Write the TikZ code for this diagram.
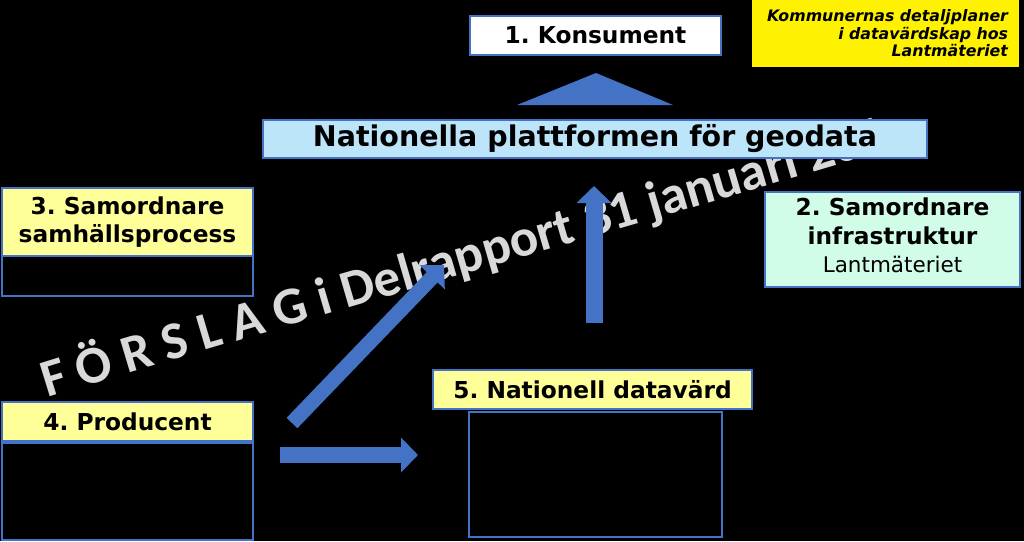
\documentclass[tikz,border=0pt]{standalone}
\usepackage{fontspec}
\setmainfont{DejaVu Sans}[ItalicFont={DejaVu Sans Oblique},BoldItalicFont={DejaVu Sans Bold Oblique}]
\newfontfamily\wmfont{Carlito}
\usetikzlibrary{arrows.meta,decorations.text}
\definecolor{abl}{RGB}{68,114,196}
\definecolor{lyel}{RGB}{255,255,153}
\definecolor{lblu}{RGB}{189,229,250}
\definecolor{mint}{RGB}{208,252,232}
\definecolor{wmg}{RGB}{217,217,217}
\frenchspacing
\begin{document}
\begin{tikzpicture}[x=1pt,y=-1pt,
  box/.style={draw=abl, line width=1.2pt, inner sep=0pt, align=center, text=black},
  lbl/.style={font=\fontsize{23.3}{28.5}\selectfont\bfseries},
  hdr/.style={box, lbl, fill=lyel},
  blk/.style={box, fill=black},
  barrow/.style={draw=abl, line width=#1, -{Triangle[length=17pt,width=34pt]}},
]
\useasboundingbox (0,0) rectangle (1024,541);
\fill[black] (0,0) rectangle (1024,541);

% watermark
\path[decorate, decoration={text along path, text align=left,
  text={|\wmfont\bfseries\fontsize{53}{53}\selectfont\color{wmg}|F Ö R S L A G i Delrapport 31 januari 2019}}]
  (47,398) .. controls (250,335) and (600,236) .. (900,146);

% top
\node[box, lbl, fill=white, minimum width=251pt, minimum height=39pt] (kons) at (595.5,35.5) {1. Konsument};
\coordinate (t1) at (517,105);
\coordinate (t2) at (596,73);
\coordinate (t3) at (673,105);
\fill[abl] (t1) -- (t2) -- (t3) -- cycle;
\node[box, fill=lblu, font=\fontsize{28.5}{30}\selectfont\bfseries, minimum width=664pt, minimum height=38pt] (plat) at (595,139) {Nationella plattformen för geodata};

\node[fill=yellow, inner xsep=11pt, inner ysep=0pt, text width=245pt, align=right, minimum height=67pt,
  font=\fontsize{15.8}{17.5}\selectfont\bfseries\itshape] (note) at (885.5,33.5) {Kommunernas detaljplaner\\ i datavärdskap hos\\ Lantmäteriet};

% box 3
\node[hdr, minimum width=251pt, minimum height=68pt] (b3) at (127.5,222) {3. Samordnare\\ samhällsprocess};
\node[blk, minimum width=251pt, minimum height=40pt] (b3b) at (127.5,276) {};

% box 2
\node[box, fill=mint, minimum width=255pt, minimum height=95pt] (b2) at (892.5,239.5) {};
\node[align=center, inner sep=0pt, font=\fontsize{23.3}{28.5}\selectfont] (b2t) at (892.5,235.5)
  {\textbf{2. Samordnare}\\ \textbf{infrastruktur}\\ {\fontsize{21.5}{28.5}\selectfont Lantmäteriet}};

% box 4
\node[hdr, minimum width=251pt, minimum height=39pt] (b4) at (127.5,421.5) {4. Producent};
\node[blk, minimum width=251pt, minimum height=97pt] (b4b) at (127.5,491.5) {};

% box 5
\node[hdr, minimum width=319pt, minimum height=39pt] (b5) at (592.5,389.5) {5. Nationell datavärd};
\node[blk, minimum width=253pt, minimum height=125pt] (b5b) at (595.5,474.5) {};

% arrows
\coordinate (upS) at (594,323);
\coordinate (upE) at (594,186);
\coordinate (dgS) at (292,423);
\coordinate (dgE) at (444,265);
\coordinate (hzS) at (280,455);
\coordinate (hzE) at (418,455);
\draw[barrow=17pt] (upS) -- (upE);
\draw[barrow=15pt] (dgS) -- (dgE);
\draw[barrow=16pt] (hzS) -- (hzE);
\end{tikzpicture}
\end{document}
